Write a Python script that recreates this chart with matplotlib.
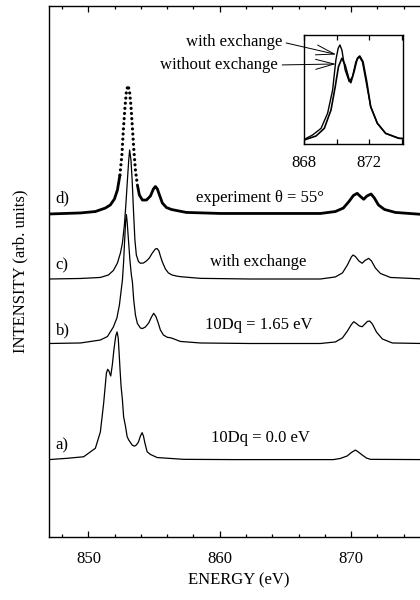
import numpy as np
import matplotlib.pyplot as plt
from matplotlib.ticker import MultipleLocator, FixedLocator

plt.rcParams['font.family'] = ['Liberation Serif', 'DejaVu Serif']
plt.rcParams['font.size'] = 12

# a) 10Dq = 0.0 eV
e_a = [847.0, 848.38, 849.64, 850.53, 850.91, 851.16, 851.37, 851.47, 851.56, 851.70,
       851.82, 851.94, 852.08, 852.18, 852.27, 852.34, 852.41, 852.49, 852.59, 852.68,
       852.82, 852.95, 853.07, 853.33, 853.50, 853.65, 853.81, 853.96, 854.09, 854.19,
       854.30, 854.47, 854.72, 855.23, 857.26, 861.04, 868.65, 869.18, 869.70, 870.02,
       870.33, 870.55, 870.84, 871.17, 871.47, 875.5]
i_a = [0.0, 0.010, 0.022, 0.088, 0.214, 0.436, 0.671, 0.700, 0.687, 0.648,
       0.733, 0.850, 0.958, 0.990, 0.943, 0.824, 0.695, 0.565, 0.462, 0.333,
       0.260, 0.178, 0.152, 0.113, 0.104, 0.113, 0.136, 0.183, 0.209, 0.183,
       0.129, 0.061, 0.040, 0.016, 0.002, 0.0, 0.0, 0.009, 0.028, 0.055,
       0.074, 0.059, 0.036, 0.012, 0.002, 0.0]

# b) 10Dq = 1.65 eV
e_b = [847.0, 849.39, 850.91, 851.45, 851.90, 852.17, 852.36, 852.47, 852.59, 852.68,
       852.76, 852.83, 852.89, 852.95, 853.05, 853.16, 853.27, 853.35, 853.45, 853.58,
       853.73, 853.96, 854.11, 854.34, 854.59, 854.80, 854.97, 855.14, 855.29, 855.48,
       855.71, 856.01, 856.28, 856.62, 857.00, 858.53, 862.33, 867.66, 868.80, 869.34,
       869.72, 870.02, 870.20, 870.40, 870.63, 870.84, 871.05, 871.24, 871.42, 871.62,
       871.93, 872.38, 873.14, 875.5]
i_b = [0.0, 0.004, 0.027, 0.054, 0.128, 0.198, 0.298, 0.391, 0.492, 0.632,
       0.802, 0.942, 1.0, 0.942, 0.802, 0.647, 0.531, 0.477, 0.337, 0.221,
       0.155, 0.120, 0.116, 0.128, 0.159, 0.205, 0.234, 0.209, 0.167, 0.105,
       0.066, 0.048, 0.044, 0.031, 0.016, 0.004, 0.0, 0.0, 0.012, 0.043,
       0.097, 0.147, 0.169, 0.155, 0.136, 0.130, 0.151, 0.171, 0.174, 0.151,
       0.089, 0.035, 0.004, 0.0]

# c) with exchange
e_c = [847.0, 849.39, 850.91, 851.52, 851.90, 852.21, 852.44, 852.59, 852.74, 852.85,
       852.97, 853.07, 853.14, 853.24, 853.33, 853.43, 853.54, 853.65, 853.81, 853.96,
       854.19, 854.42, 854.64, 854.87, 855.10, 855.23, 855.37, 855.48, 855.63, 855.86,
       856.09, 856.37, 856.70, 857.00, 858.53, 862.33, 867.66, 868.80, 869.34, 869.72,
       870.02, 870.15, 870.33, 870.59, 870.84, 871.05, 871.34, 871.55, 871.85, 872.23,
       872.99, 875.5]
i_c = [0.0, 0.004, 0.012, 0.031, 0.066, 0.124, 0.202, 0.279, 0.419, 0.574,
       0.767, 0.922, 1.0, 0.922, 0.767, 0.535, 0.302, 0.186, 0.136, 0.122,
       0.124, 0.140, 0.163, 0.202, 0.233, 0.236, 0.217, 0.178, 0.132, 0.078,
       0.047, 0.031, 0.023, 0.018, 0.005, 0.0, 0.0, 0.016, 0.047, 0.109,
       0.171, 0.186, 0.174, 0.140, 0.122, 0.143, 0.160, 0.140, 0.085, 0.043,
       0.012, 0.0]

# d) experiment, theta = 55 deg
e_d = [847.0, 849.39, 850.53, 851.29, 851.67, 851.98, 852.21, 852.40, 852.55, 852.66,
       852.78, 852.89, 853.00, 853.12, 853.24, 853.35, 853.46, 853.58, 853.73, 853.88,
       854.11, 854.42, 854.72, 854.95, 855.10, 855.25, 855.41, 855.63, 855.94, 856.32,
       856.70, 857.46, 860.05, 864.62, 867.66, 868.80, 869.41, 869.87, 870.17, 870.46,
       870.71, 870.96, 871.20, 871.52, 871.77, 872.08, 872.54, 873.37, 875.5]
i_d = [0.004, 0.012, 0.023, 0.050, 0.074, 0.120, 0.190, 0.306, 0.461, 0.655,
       0.826, 0.950, 1.0, 0.965, 0.841, 0.671, 0.500, 0.345, 0.229, 0.151,
       0.112, 0.112, 0.143, 0.198, 0.217, 0.198, 0.151, 0.089, 0.054, 0.039,
       0.031, 0.016, 0.008, 0.008, 0.008, 0.023, 0.050, 0.105, 0.147, 0.164,
       0.140, 0.118, 0.143, 0.159, 0.128, 0.074, 0.039, 0.016, 0.0]

offsets = {'a': 0.6, 'b': 1.5, 'c': 2.0, 'd': 2.5}

# inset: L2 edge with and without exchange
e_with = [868.02, 868.53, 869.05, 869.45, 869.76, 869.96, 870.10, 870.21, 870.33, 870.53,
          870.78, 870.98, 871.19, 871.39, 871.59, 871.80, 872.10, 872.51, 873.02, 873.83, 874.1]
i_with = [0.007, 0.053, 0.123, 0.281, 0.526, 0.842, 0.965, 1.0, 0.947, 0.737,
          0.614, 0.666, 0.824, 0.877, 0.824, 0.632, 0.351, 0.176, 0.070, 0.018, 0.015]
e_without = [868.0, 868.74, 869.25, 869.66, 869.92, 870.12, 870.33, 870.53, 870.78, 870.88,
             871.08, 871.28, 871.43, 871.63, 871.86, 872.10, 872.51, 873.02, 873.83, 874.1]
i_without = [0.0, 0.042, 0.123, 0.316, 0.561, 0.772, 0.860, 0.789, 0.632, 0.603,
             0.719, 0.860, 0.884, 0.824, 0.614, 0.351, 0.176, 0.070, 0.018, 0.015]

fig = plt.figure(figsize=(4.2, 6.0), dpi=100)
ax = fig.add_axes([49 / 420, 63 / 600, 33 * 13.135 / 420, 531 / 600])

lw_thin = 0.9
ax.plot(e_a, np.array(i_a) + offsets['a'], color='black', lw=lw_thin)
ax.plot(e_b, np.array(i_b) + offsets['b'], color='black', lw=lw_thin)
ax.plot(e_c, np.array(i_c) + offsets['c'], color='black', lw=lw_thin)

# experimental curve: solid where it is flat, dotted across the steep L3 peak
e_d = np.array(e_d)
y_d = np.array(i_d) + offsets['d']
low = e_d <= 852.40
high = e_d >= 853.73
peak = (e_d >= 852.40) & (e_d <= 853.73)
ax.plot(e_d[low], y_d[low], color='black', lw=2.0, solid_capstyle='round')
ax.plot(e_d[high], y_d[high], color='black', lw=2.0, solid_capstyle='round')
ax.plot(e_d[peak], y_d[peak], color='black', lw=2.3, linestyle=(0, (0.01, 1.6)),
        dash_capstyle='round')

ax.set_xlim(847, 880)
ax.set_ylim(0, 531 / 129)
ax.set_yticks([])
ax.xaxis.set_major_locator(FixedLocator([850, 860, 870]))
ax.xaxis.set_minor_locator(MultipleLocator(2))
ax.tick_params(axis='x', which='both', direction='in', top=True, pad=10, labelsize=12)
ax.tick_params(axis='x', which='major', length=4.5, width=0.9)
ax.tick_params(axis='x', which='minor', length=2.5, width=0.9)
ax.spines['right'].set_visible(False)
for s in ['left', 'bottom', 'top']:
    ax.spines[s].set_linewidth(1.0)

ax.set_ylabel('INTENSITY (arb. units)', fontsize=12, labelpad=15)
fig.text(239 / 420, 1 - 580 / 600, 'ENERGY (eV)', ha='center', va='center', fontsize=12)

for tag, y in [('d)', 2.628), ('c)', 2.109), ('b)', 1.605), ('a)', 0.713)]:
    ax.text(847.5, y, tag, ha='left', va='center', fontsize=12)
ax.text(863.1, 2.628, 'experiment θ = 55°', ha='center', va='center', fontsize=12)
ax.text(862.9, 2.132, 'with exchange', ha='center', va='center', fontsize=12)
ax.text(863.0, 1.643, '10Dq = 1.65 eV', ha='center', va='center', fontsize=12)
ax.text(863.1, 0.767, '10Dq = 0.0 eV', ha='center', va='center', fontsize=12)

# inset
ins = fig.add_axes([304 / 420, 1 - 144 / 600, 98.7 / 420, 109 / 600])
ins.plot(e_with, i_with, color='black', lw=1.0)
ins.plot(e_without, i_without, color='black', lw=1.2)
ins.set_xlim(868, 874.07)
ins.set_ylim(-0.042, 1.105)
ins.set_yticks([])
ins.set_xticks([868, 870, 872, 874])
ins.set_xticklabels(['868', '', '872', ''])
ins.tick_params(axis='x', direction='in', top=True, length=3.5, width=0.9, pad=8,
                labelsize=12)
for s in ins.spines.values():
    s.set_linewidth(1.0)

arrow = dict(arrowstyle='->,head_length=1.1,head_width=0.3', color='black', lw=0.7,
             relpos=(1.0, 0.5), shrinkA=1, shrinkB=0)
ins.annotate('with exchange', xy=(869.98, 0.90), xycoords='data',
             xytext=(282, 558), textcoords='figure pixels',
             ha='right', va='center', fontsize=12, arrowprops=arrow)
ins.annotate('without exchange', xy=(869.96, 0.80), xycoords='data',
             xytext=(278, 535), textcoords='figure pixels',
             ha='right', va='center', fontsize=12, arrowprops=arrow)

plt.savefig('out.png', dpi=100)
